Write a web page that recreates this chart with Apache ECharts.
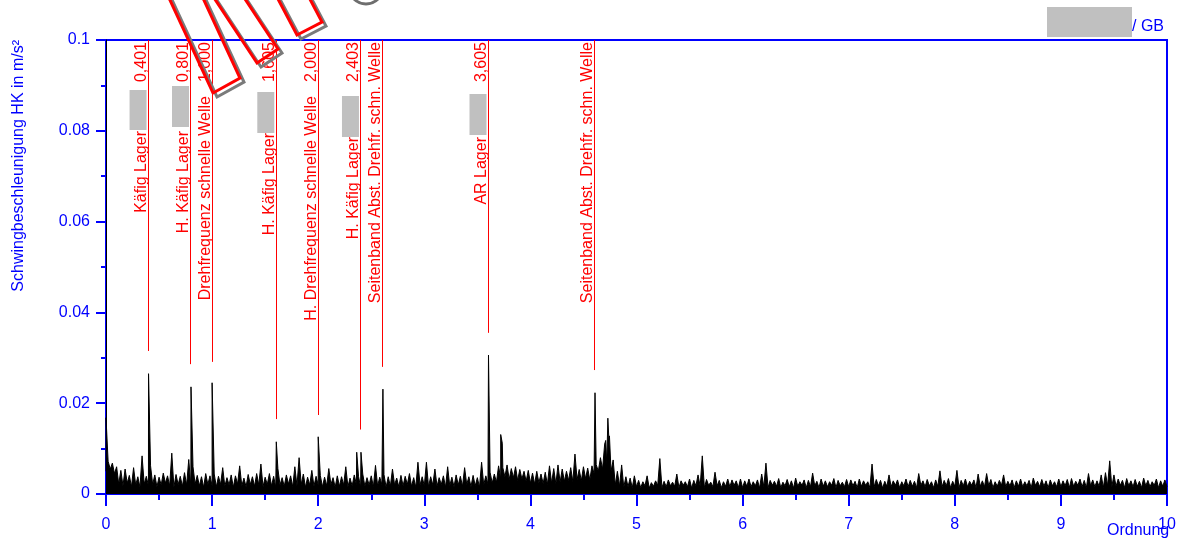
<!DOCTYPE html>
<html>
<head>
<meta charset="utf-8">
<script src="https://cdn.jsdelivr.net/npm/echarts@6/dist/echarts.min.js"></script>
<style>
  html, body { margin: 0; padding: 0; background: #ffffff; }
  #chart { width: 1181px; height: 541px; }
</style>
</head>
<body>
<div id="chart"></div>
<script>
// Order spectrum of the HK vibration acceleration (envelope), orders 0..10

// Background spectrum sampled every 0.02 orders, alternating trough / crest, in 1e-4 m/s²
const SAMPLE_STEP = 0.02;
const noiseFloor = [
  // 0.00 - 0.98
  50,72,55,68,45,60,22,52,18,55,24,41,16,58,20,38,15,84,22,39,18,62,21,42,16,37,20,46,24,40,18,90,15,43,21,39,17,47,20,76,16,60,22,41,18,38,15,45,21,40,
  // 1.00 - 1.98
  18,44,16,39,21,58,17,36,20,42,15,40,22,62,18,35,16,43,21,38,17,45,20,66,16,37,21,45,18,39,15,56,20,36,17,42,22,40,16,60,18,80,21,44,15,37,20,52,17,39,
  // 2.00 - 2.98
  20,41,16,37,18,56,21,36,15,40,17,38,20,60,16,35,18,42,21,39,15,44,17,36,20,40,16,63,18,37,21,43,15,38,17,55,20,35,16,41,18,39,21,45,17,36,15,70,20,38,
  // 3.00 - 3.98
  18,70,16,38,20,55,17,36,21,40,15,60,18,37,16,42,20,39,17,58,21,38,16,41,18,36,15,70,20,40,22,48,24,44,26,62,34,58,38,64,32,56,36,60,30,54,33,50,28,52,
  // 4.00 - 4.98
  24,46,22,50,25,44,23,48,21,62,24,56,22,64,26,55,28,50,30,58,27,88,32,54,29,60,34,57,31,62,45,65,50,80,55,110,65,120,50,75,20,50,17,64,15,38,16,35,14,40,
  // 5.00 - 5.98
  16,30,14,27,18,40,13,25,17,29,19,78,14,28,16,31,18,26,17,44,14,29,19,27,16,33,13,30,18,42,17,84,14,32,19,26,16,48,18,30,14,27,17,33,16,31,19,29,14,33,
  // 6.00 - 6.98
  14,29,17,33,16,27,18,31,13,44,16,68,14,30,19,28,17,34,14,26,18,32,16,29,13,35,17,27,19,31,14,30,16,46,18,28,14,33,17,29,16,27,19,34,14,30,18,26,16,32,
  // 7.00 - 7.98
  16,31,18,28,14,33,17,29,19,27,14,66,16,32,18,30,13,28,17,42,16,29,19,31,14,27,18,33,16,30,17,28,14,45,19,29,16,32,18,27,14,31,17,51,16,30,18,34,14,28,
  // 8.00 - 8.98
  17,52,14,30,18,33,16,28,19,31,14,44,17,29,16,45,18,32,14,27,17,30,19,42,16,28,18,31,14,29,17,33,16,27,18,30,14,35,19,28,16,32,17,29,14,31,18,27,16,33,
  // 9.00 - 10.00
  16,29,18,32,14,34,17,28,19,33,16,30,14,45,18,31,16,29,17,42,14,47,18,73,16,42,17,33,19,30,14,34,18,29,16,32,17,28,14,35,18,30,16,27,19,33,14,29,17,31,16
];

// Discrete spectral lines [order, m/s²]
const spectralLines = [
  [0.000, 0.0168], [0.401, 0.0265], [0.801, 0.0236], [1.000, 0.0245],
  [1.605, 0.0115], [2.000, 0.0126], [2.363, 0.0092], [2.403, 0.0092],
  [2.610, 0.0231], [3.605, 0.0306], [3.720, 0.0131], [3.735, 0.0112],
  [4.609, 0.0223], [4.710, 0.0118], [4.730, 0.0167], [4.745, 0.0128]
];

// Kinematic frequency markers
const markerOrders = [0.401, 0.801, 1.000, 1.605, 2.000, 2.403, 2.610, 3.605, 4.609];
const markerNames = [
  'Käfig Lager', 'H. Käfig Lager', 'Drehfrequenz schnelle Welle', 'H. Käfig Lager',
  'H. Drehfrequenz schnelle Welle', 'H. Käfig Lager', 'Seitenband Abst. Drehfr. schn. Welle',
  'AR Lager', 'Seitenband Abst. Drehfr. schn. Welle'
];
const markerShowsOrder = [true, true, true, true, true, true, false, true, false];
const markerLineEnds = [0.0315, 0.0286, 0.0291, 0.0165, 0.0174, 0.0142, 0.0280, 0.0355, 0.0273];

// Axis ranges
const xRange = [0, 10];
const yRange = [0, 0.1];

// ---- layout / styling (pixels) ----
const BLUE = '#0000ff';
const RED = '#ff0000';
const FONT = '"Liberation Sans", Arial, sans-serif';
const nameTopY = [131, 131, 96, 133, 96, 137, 42, 137, 42];
const maskSpans = { 0: [90, 130], 1: [86, 127], 3: [92, 133], 5: [96, 137], 7: [94, 135] };

// merge background samples and spectral lines into one trace
const trace = noiseFloor.map((v, i) => [i * SAMPLE_STEP, v * 1e-4])
  .concat(spectralLines)
  .sort((a, b) => a[0] - b[0]);

const chart = echarts.init(document.getElementById('chart'), null, { renderer: 'canvas' });

chart.setOption({
  animation: false,
  grid: { left: 106, right: 14, top: 40, bottom: 47, show: true, borderColor: BLUE, borderWidth: 2, backgroundColor: 'transparent' },
  xAxis: {
    type: 'value', min: xRange[0], max: xRange[1], interval: 1,
    axisLine: { lineStyle: { color: BLUE, width: 2 } },
    axisTick: { inside: false, length: 12, lineStyle: { color: BLUE, width: 2 } },
    minorTick: { show: true, splitNumber: 2, length: 6, lineStyle: { color: BLUE, width: 2 } },
    splitLine: { show: false },
    axisLabel: { color: BLUE, fontSize: 16, fontFamily: FONT, margin: 23 }
  },
  yAxis: {
    type: 'value', min: yRange[0], max: yRange[1], interval: 0.02,
    axisLine: { show: true, lineStyle: { color: '#000000', width: 1 } },
    axisTick: { show: true, inside: false, length: 10, lineStyle: { color: BLUE, width: 2 } },
    minorTick: { show: true, splitNumber: 2, length: 5, lineStyle: { color: BLUE, width: 2 } },
    splitLine: { show: false },
    axisLabel: { color: BLUE, fontSize: 16, fontFamily: FONT, margin: 16, formatter: v => String(+v.toFixed(2)) }
  },
  series: [{
    type: 'line',
    data: trace,
    showSymbol: false,
    symbol: 'none',
    lineStyle: { color: '#000000', width: 1 },
    areaStyle: { color: '#000000', opacity: 1 },
    z: 3
  }]
});

// ---- annotations placed through the axis scales ----
const graphics = [];
const toPx = (x, y) => chart.convertToPixel({ gridIndex: 0 }, [x, y]);
const vText = (x, y, text, color) => ({
  type: 'text', x: x, y: y, rotation: Math.PI / 2, z: 10,
  style: { text: text, fill: color, font: '16px ' + FONT, align: 'right', textAlign: 'right', verticalAlign: 'bottom', textVerticalAlign: 'bottom' }
});

markerOrders.forEach((o, i) => {
  const top = toPx(o, yRange[1]);
  const end = toPx(o, markerLineEnds[i]);
  // snap the hairline onto an even pixel column so it stays crisp
  const lx = 2 * Math.round((top[0] - 0.5) / 2) + 0.5;
  graphics.push({ type: 'line', z: 9, shape: { x1: lx, y1: top[1], x2: lx, y2: end[1] }, style: { stroke: RED, lineWidth: 1 } });
  if (markerShowsOrder[i]) {
    graphics.push(vText(top[0] + 1, 42, o.toFixed(3).replace('.', ','), RED));
  }
  graphics.push(vText(top[0] + 1, nameTopY[i], markerNames[i], RED));
  if (maskSpans[i]) {
    const s = maskSpans[i];
    graphics.push({ type: 'rect', z: 11, shape: { x: top[0] - 19, y: s[0], width: 17, height: s[1] - s[0] }, style: { fill: '#c0c0c0' } });
  }
});

// callout frames at the top
const frames = [
  [[213, 93], [240, 78], [177, -58], [150, -43]],
  [[257, 63], [278, 49], [212, -51], [191, -37]],
  [[297, 35], [322, 22], [275, -67], [250, -54]]
];
frames.forEach(pts => {
  graphics.push({ type: 'polygon', z: 12, shape: { points: pts.map(p => [p[0] + 4, p[1] + 4]) }, style: { fill: null, stroke: '#7a7a7a', lineWidth: 3 } });
});
frames.forEach(pts => {
  graphics.push({ type: 'polygon', z: 13, shape: { points: pts }, style: { fill: null, stroke: RED, lineWidth: 3 } });
});
graphics.push({ type: 'circle', z: 12, shape: { cx: 366, cy: -13, r: 17 }, style: { fill: null, stroke: '#6e6e6e', lineWidth: 3 } });

// axis titles and header
graphics.push({
  type: 'text', x: 19, y: 40, rotation: Math.PI / 2, z: 10,
  style: { text: 'Schwingbeschleunigung HK in m/s²', fill: BLUE, font: '16px ' + FONT, align: 'right', textAlign: 'right', verticalAlign: 'middle', textVerticalAlign: 'middle' }
});
graphics.push({
  type: 'text', x: 1107, y: 523, z: 10,
  style: { text: 'Ordnung', fill: BLUE, font: '16px ' + FONT, align: 'left', textAlign: 'left', verticalAlign: 'top', textVerticalAlign: 'top' }
});
graphics.push({ type: 'rect', z: 10, shape: { x: 1047, y: 7, width: 85, height: 30 }, style: { fill: '#c0c0c0' } });
graphics.push({
  type: 'text', x: 1132, y: 27, z: 10,
  style: { text: '/ GB', fill: BLUE, font: '16px ' + FONT, align: 'left', textAlign: 'left', verticalAlign: 'middle', textVerticalAlign: 'middle' }
});

chart.setOption({ graphic: { elements: graphics } });
</script>
</body>
</html>
